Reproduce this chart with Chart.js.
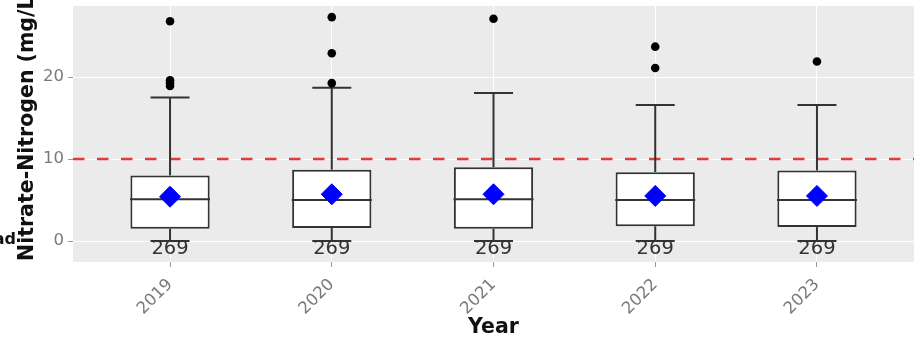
<!DOCTYPE html>
<html>
<head>
<meta charset="utf-8">
<script src="https://cdn.jsdelivr.net/npm/chart.js@4.4.0/dist/chart.umd.min.js"></script>
<style>
  html, body { margin: 0; padding: 0; background: #fff; }
</style>
</head>
<body>
<canvas id="myChart" width="919" height="342"></canvas>
<script>
// values (mg/L)
let years = ['2019', '2020', '2021', '2022', '2023'];
let lowWhisker = [0, 0, 0, 0, 0];
let q1 = [1.5, 1.6, 1.5, 1.8, 1.7];
let medians = [5.1, 5.0, 5.1, 5.0, 5.0];
let q3 = [8.0, 8.7, 9.0, 8.4, 8.6];
let highWhisker = [17.5, 18.7, 18.05, 16.6, 16.6];
let means = [5.4, 5.7, 5.7, 5.5, 5.5];
let outliers = [[26.8, 19.6, 19.25, 18.9], [27.3, 22.9, 19.25], [27.1], [23.7, 21.1], [21.9]];
let counts = [269, 269, 269, 269, 269];
let limit = 10;
let yTicks = [0, 10, 20];
let yTitle = 'Nitrate-Nitrogen (mg/L)';

let boxLine = '#333333';

let pos = years.map((y, i) => i + 1);
let pts = arr => pos.map((x, i) => ({x: x, y: arr[i]}));
let outlierPts = [];
outliers.forEach((list, i) => list.forEach(v => outlierPts.push({x: pos[i], y: v})));

Chart.defaults.font.family = '"DejaVu Sans", Verdana, sans-serif';

let panel = {
  id: 'panel',
  beforeDraw(chart) {
    let a = chart.chartArea, ctx = chart.ctx;
    ctx.save();
    ctx.fillStyle = '#EBEBEB';
    ctx.fillRect(a.left, a.top, a.right - a.left, a.bottom - a.top);
    ctx.restore();
  },
  beforeDatasetsDraw(chart) {
    let a = chart.chartArea, ctx = chart.ctx;
    let y = chart.scales.y.getPixelForValue(limit);
    ctx.save();
    ctx.strokeStyle = '#E03A3A';
    ctx.lineWidth = 2.5;
    ctx.setLineDash([11.5, 12.5]);
    ctx.beginPath();
    ctx.moveTo(a.left, y);
    ctx.lineTo(a.right, y);
    ctx.stroke();
    ctx.restore();
  },
  afterDatasetsDraw(chart) {
    let ctx = chart.ctx, xs = chart.scales.x, ys = chart.scales.y;
    ctx.save();
    ctx.fillStyle = '#333333';
    ctx.font = '19.5px "DejaVu Sans"';
    ctx.textAlign = 'center';
    ctx.textBaseline = 'middle';
    counts.forEach((n, i) => {
      ctx.fillText(String(n), xs.getPixelForValue(pos[i]), ys.getPixelForValue(-0.95));
    });
    ctx.restore();
  },
  afterDraw(chart) {
    let a = chart.chartArea, ctx = chart.ctx;
    ctx.save();
    ctx.fillStyle = '#111111';
    ctx.font = 'bold 20.5px "DejaVu Sans"';
    ctx.translate(28, a.bottom - 1);
    ctx.rotate(-Math.PI / 2);
    ctx.textAlign = 'left';
    ctx.textBaseline = 'middle';
    ctx.fillText(yTitle, 0, 0);
    ctx.restore();
    // cut-off label from the neighbouring panel
    ctx.save();
    ctx.fillStyle = '#111111';
    ctx.font = 'bold 16px "DejaVu Sans"';
    ctx.textAlign = 'right';
    ctx.textBaseline = 'middle';
    ctx.fillText('ad', 16, 240);
    ctx.restore();
  }
};

let ctx = document.getElementById('myChart').getContext('2d');

let chart = new Chart(ctx, {
  type: 'bar',
  data: {
    datasets: [
      {
        type: 'scatter',
        data: pts(means),
        pointStyle: 'rectRot',
        pointRadius: 10.5,
        pointBackgroundColor: '#0000FF',
        pointBorderColor: '#0000FF',
        pointBorderWidth: 1,
        order: 0
      },
      {
        type: 'scatter',
        data: outlierPts,
        pointStyle: 'circle',
        pointRadius: 4.3,
        pointBackgroundColor: '#000000',
        pointBorderColor: '#000000',
        pointBorderWidth: 0,
        order: 0
      },
      {
        type: 'scatter',
        data: pts(medians),
        pointStyle: 'line',
        pointRadius: 40,
        pointBorderColor: boxLine,
        pointBorderWidth: 2,
        order: 1
      },
      {
        type: 'scatter',
        data: pts(highWhisker).concat(pts(lowWhisker)),
        pointStyle: 'line',
        pointRadius: 19.5,
        pointBorderColor: boxLine,
        pointBorderWidth: 2,
        order: 1
      },
      {
        data: pos.map((x, i) => ({x: x, y: [q1[i], q3[i]]})),
        backgroundColor: '#FFFFFF',
        borderColor: boxLine,
        borderWidth: 2,
        borderSkipped: false,
        grouped: false,
        categoryPercentage: 1,
        barPercentage: 0.49,
        order: 2
      },
      {
        data: pos.map((x, i) => ({x: x, y: [q3[i], highWhisker[i]]})),
        backgroundColor: boxLine,
        borderWidth: 0,
        grouped: false,
        maxBarThickness: 2,
        order: 3
      },
      {
        data: pos.map((x, i) => ({x: x, y: [lowWhisker[i], q1[i]]})),
        backgroundColor: boxLine,
        borderWidth: 0,
        grouped: false,
        maxBarThickness: 2,
        order: 3
      }
    ]
  },
  options: {
    responsive: false,
    animation: false,
    events: [],
    layout: { autoPadding: false, padding: { top: 6, right: 5, left: 0, bottom: 0 } },
    plugins: {
      legend: { display: false },
      tooltip: { enabled: false }
    },
    scales: {
      x: {
        type: 'linear',
        offset: false,
        min: 0.4,
        max: 5.6,
        afterBuildTicks: s => { s.ticks = pos.map(v => ({value: v})); },
        afterFit: s => {
          s.height = 80;
          s.paddingLeft = 0; s.paddingRight = 0; s.paddingTop = 0; s.paddingBottom = 0;
        },
        border: { display: false },
        grid: { offset: false, color: '#FFFFFF', lineWidth: 1, tickColor: '#999999', tickLength: 5 },
        ticks: {
          color: '#7A7A7A',
          font: { size: 16.5 },
          minRotation: 45,
          maxRotation: 45,
          padding: 8,
          callback: v => years[v - 1]
        },
        title: {
          display: true,
          text: 'Year',
          color: '#111111',
          font: { size: 20.5, weight: 'bold' },
          padding: { top: 0, bottom: 2 }
        }
      },
      y: {
        min: -2.56,
        max: 28.66,
        afterBuildTicks: s => { s.ticks = yTicks.map(v => ({value: v})); },
        afterFit: s => {
          s.width = 73;
          s.paddingLeft = 0; s.paddingRight = 0; s.paddingTop = 0; s.paddingBottom = 0;
        },
        border: { display: false },
        grid: { color: '#FFFFFF', lineWidth: 1, tickColor: '#999999', tickLength: 5 },
        ticks: {
          color: '#7A7A7A',
          font: { size: 16.5 },
          padding: 4
        }
      }
    }
  },
  plugins: [panel]
});
</script>
</body>
</html>
